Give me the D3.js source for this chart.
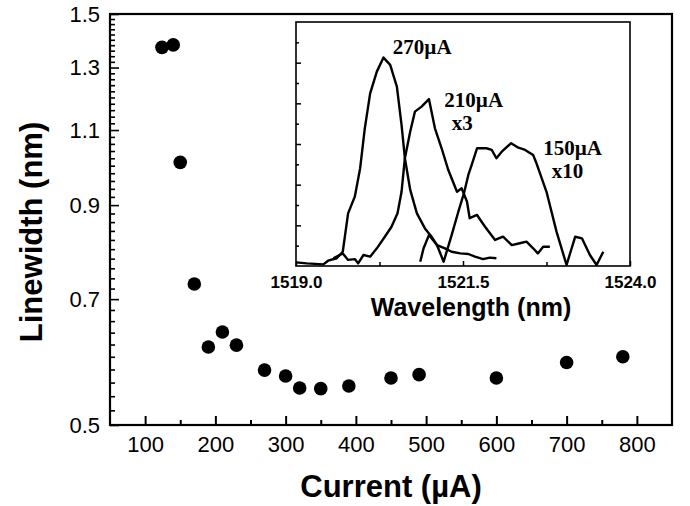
<!DOCTYPE html>
<html>
<head>
<meta charset="utf-8">
<script src="https://cdn.jsdelivr.net/npm/d3@7"></script>
<style>
  html, body { margin: 0; padding: 0; background: #fff; }
  svg { display: block; }
</style>
</head>
<body>
<svg id="chart" width="690" height="506"></svg>
<script>
// ---------- main chart data ----------
const currents   = [124, 140, 150, 170, 190, 210, 230, 270, 300, 320, 350, 390, 450, 490, 600, 700, 780];
const linewidths = [1.372, 1.381, 1.009, 0.729, 0.616, 0.641, 0.619, 0.579, 0.570, 0.552, 0.551, 0.555, 0.567, 0.572, 0.567, 0.591, 0.600];
const xTicks = [100, 200, 300, 400, 500, 600, 700, 800];
const xMinorTicks = [150, 250, 350, 450, 550, 650, 750];
const yTicks = [0.5, 0.7, 0.9, 1.1, 1.3, 1.5];
const yTickLabels = ["0.5", "0.7", "0.9", "1.1", "1.3", "1.5"];

// ---------- inset spectra data ----------
const wl270 = [1519.00, 1519.16, 1519.41, 1519.48, 1519.61, 1519.70, 1519.78, 1519.88, 1519.96, 1520.03, 1520.11, 1520.21, 1520.31, 1520.41, 1520.51, 1520.58, 1520.63, 1520.71, 1520.81, 1520.93, 1521.03, 1521.11, 1521.23, 1521.33, 1521.46, 1521.58, 1521.68, 1521.80, 1521.90, 1522.00];
const int270 = [0.18, 0.13, 0.08, 0.26, 0.38, 0.70, 2.59, 3.41, 4.80, 6.77, 8.49, 9.56, 10.25, 9.89, 8.82, 6.94, 5.30, 3.74, 2.59, 1.85, 1.44, 1.03, 0.87, 0.70, 0.62, 0.59, 0.46, 0.34, 0.41, 0.38];

const wl210 = [1519.56, 1519.70, 1519.78, 1519.88, 1519.93, 1520.01, 1520.11, 1520.21, 1520.33, 1520.43, 1520.52, 1520.58, 1520.63, 1520.71, 1520.78, 1520.88, 1520.99, 1521.08, 1521.18, 1521.28, 1521.41, 1521.48, 1521.56, 1521.60, 1521.71, 1521.83, 1521.98, 1522.10, 1522.23, 1522.35, 1522.45, 1522.55, 1522.62, 1522.70, 1522.80];
const int210 = [0.38, 0.62, 0.30, 0.34, 0.13, 0.54, 0.46, 0.87, 1.44, 1.93, 2.59, 3.65, 5.30, 6.61, 7.59, 7.84, 8.21, 6.77, 5.79, 4.72, 3.65, 3.82, 3.16, 2.35, 2.51, 1.93, 1.28, 1.44, 1.03, 1.12, 1.20, 0.87, 0.62, 0.95, 0.95];

const wl150 = [1520.86, 1520.91, 1520.99, 1521.11, 1521.21, 1521.33, 1521.43, 1521.52, 1521.58, 1521.63, 1521.71, 1521.85, 1521.93, 1522.00, 1522.08, 1522.22, 1522.33, 1522.43, 1522.55, 1522.60, 1522.75, 1522.90, 1523.05, 1523.18, 1523.28, 1523.40, 1523.50, 1523.60];
const int150 = [0.21, 0.87, 1.52, 1.03, 0.21, 1.52, 2.67, 3.65, 4.48, 4.97, 5.79, 5.79, 5.71, 5.30, 5.62, 6.04, 5.82, 5.71, 5.46, 5.05, 3.65, 1.69, 0.05, 1.44, 1.36, 0.54, 0.05, 0.70];

const insetXTicks = [1519.0, 1521.5, 1524.0];
const insetXMinor = [1520.25, 1522.75];
const insetYMajor = [2, 4, 6, 8, 10];
const insetYMinor = [1, 3, 5, 7, 9, 11];

const labelTexts = ["270\u00b5A", "210\u00b5A", "x3", "150\u00b5A", "x10"];
const labelWl    = [1520.45, 1521.22, 1521.33, 1522.70, 1522.83];
const labelInt   = [10.43, 7.84, 6.69, 5.46, 4.33];

// ---------- layout ----------
const svg = d3.select("#chart");
const M = {left: 110, right: 672, top: 14, bottom: 425};
const sans = "'Liberation Sans', Arial, Helvetica, sans-serif";
const serif = "'Liberation Serif', 'Times New Roman', serif";

const x = d3.scaleLinear().domain([50, 850]).range([M.left, M.right]);
const y = d3.scaleLog().domain([0.5, 1.5]).range([M.bottom, M.top]);

// y minor ticks every 0.02
const yMinor = d3.range(26, 75).map(i => +(i * 0.02).toFixed(2)).filter(v => !yTicks.some(t => Math.abs(t - v) < 1e-6));

// frame
svg.append("rect")
  .attr("x", M.left).attr("y", M.top)
  .attr("width", M.right - M.left).attr("height", M.bottom - M.top)
  .attr("fill", "none").attr("stroke", "#000").attr("stroke-width", 2.2);

// x axis
const gx = svg.append("g").attr("transform", `translate(0,${M.bottom})`);
gx.call(d3.axisBottom(x).tickValues(xTicks).tickSizeInner(-9).tickSizeOuter(0).tickPadding(11).tickFormat(d3.format("d")));
gx.append("g").call(d3.axisBottom(x).tickValues(xMinorTicks).tickSizeInner(-5).tickSizeOuter(0).tickFormat(""));
gx.selectAll(".domain").remove();
gx.selectAll("line").attr("stroke", "#000").attr("stroke-width", 2);
gx.selectAll("text").attr("font-family", sans).attr("font-size", 22).attr("fill", "#000").attr("dy", "0.72em");

// y axis
const gy = svg.append("g").attr("transform", `translate(${M.left},0)`);
gy.call(d3.axisLeft(y).tickValues(yTicks).tickSizeInner(-9).tickSizeOuter(0).tickPadding(10)
  .tickFormat((d, i) => yTickLabels[i]));
gy.append("g").call(d3.axisLeft(y).tickValues(yMinor).tickSizeInner(-5).tickSizeOuter(0).tickFormat(""));
gy.selectAll(".domain").remove();
gy.selectAll("line").attr("stroke", "#000").attr("stroke-width", 1.6);
gy.selectAll("text").attr("font-family", sans).attr("font-size", 22).attr("fill", "#000");

// points
svg.append("g").selectAll("circle")
  .data(currents.map((c, i) => [c, linewidths[i]]))
  .join("circle")
  .attr("cx", d => x(d[0])).attr("cy", d => y(d[1])).attr("r", 6.8)
  .attr("fill", "#000");

// axis titles
svg.append("text")
  .attr("x", (M.left + M.right) / 2).attr("y", 497)
  .attr("text-anchor", "middle")
  .attr("font-family", sans).attr("font-weight", "bold").attr("font-size", 31)
  .text("Current (\u00b5A)");
svg.append("text")
  .attr("transform", "translate(42,232) rotate(-90)")
  .attr("text-anchor", "middle")
  .attr("font-family", sans).attr("font-weight", "bold").attr("font-size", 31)
  .text("Linewidth (nm)");

// ---------- inset ----------
const I = {left: 296, right: 630, top: 22, bottom: 266};
const ix = d3.scaleLinear().domain([1519, 1524]).range([I.left, I.right]);
const iy = d3.scaleLinear().domain([0, 12]).range([I.bottom, I.top]);

svg.append("rect")
  .attr("x", I.left).attr("y", I.top)
  .attr("width", I.right - I.left).attr("height", I.bottom - I.top)
  .attr("fill", "#fff").attr("stroke", "none");

svg.append("clipPath").attr("id", "insetClip")
  .append("rect").attr("x", I.left).attr("y", I.top).attr("width", I.right - I.left).attr("height", I.bottom - I.top);

const line = d3.line().x(d => ix(d[0])).y(d => iy(d[1]));
const series = [
  wl270.map((w, i) => [w, int270[i]]),
  wl210.map((w, i) => [w, int210[i]]),
  wl150.map((w, i) => [w, int150[i]])
];
svg.append("g").attr("clip-path", "url(#insetClip)")
  .selectAll("path").data(series).join("path")
  .attr("d", line).attr("fill", "none").attr("stroke", "#000")
  .attr("stroke-width", 2.4).attr("stroke-linejoin", "round");

svg.append("rect")
  .attr("x", I.left).attr("y", I.top)
  .attr("width", I.right - I.left).attr("height", I.bottom - I.top)
  .attr("fill", "none").attr("stroke", "#000").attr("stroke-width", 1.6);

const igx = svg.append("g").attr("transform", `translate(0,${I.bottom})`);
igx.call(d3.axisBottom(ix).tickValues(insetXTicks).tickSizeInner(-5).tickSizeOuter(0).tickPadding(9).tickFormat(d3.format(".1f")));
igx.append("g").call(d3.axisBottom(ix).tickValues(insetXMinor).tickSizeInner(-4).tickSizeOuter(0).tickFormat(""));
igx.selectAll(".domain").remove();
igx.selectAll("line").attr("stroke", "#000").attr("stroke-width", 1.5);
igx.selectAll("text").attr("font-family", sans).attr("font-weight", "bold").attr("font-size", 17).attr("fill", "#000").attr("dy", "0.75em");

const igy = svg.append("g").attr("transform", `translate(${I.left},0)`);
igy.call(d3.axisLeft(iy).tickValues(insetYMajor).tickSizeInner(-5).tickSizeOuter(0).tickFormat(""));
igy.append("g").call(d3.axisLeft(iy).tickValues(insetYMinor).tickSizeInner(-3).tickSizeOuter(0).tickFormat(""));
igy.selectAll(".domain").remove();
igy.selectAll("line").attr("stroke", "#000").attr("stroke-width", 1.5);

svg.append("text")
  .attr("x", 471).attr("y", 316)
  .attr("text-anchor", "middle")
  .attr("font-family", sans).attr("font-weight", "bold").attr("font-size", 25)
  .text("Wavelength (nm)");

svg.append("g").selectAll("text")
  .data(labelTexts.map((t, i) => ({t, w: labelWl[i], v: labelInt[i]})))
  .join("text")
  .attr("x", d => ix(d.w)).attr("y", d => iy(d.v))
  .attr("font-family", serif).attr("font-weight", "bold").attr("font-size", 21)
  .text(d => d.t);
</script>
</body>
</html>
